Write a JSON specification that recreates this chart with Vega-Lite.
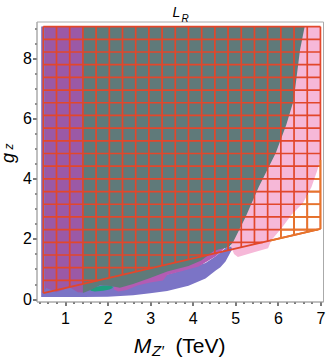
{
  "$schema": "https://vega.github.io/schema/vega-lite/v6.json",
  "width": 286.5,
  "height": 280,
  "autosize": {"type": "none"},
  "padding": {"left": 36.5, "top": 21.5, "right": 4, "bottom": 55.5},
  "config": {"font": "Liberation Sans", "view": {"stroke": "#aaaaaa", "strokeWidth": 1}},
  "datasets": {
    "regions": [
      {"r": "blue", "x": 0.44, "lo": 0.07, "hi": 9.05},
      {"r": "blue", "x": 1.42, "lo": 0.07, "hi": 9.05},
      {"r": "blue", "x": 1.43, "lo": 0.07, "hi": 0.6},
      {"r": "blue", "x": 2.0, "lo": 0.08, "hi": 0.6},
      {"r": "blue", "x": 2.6, "lo": 0.13, "hi": 0.6},
      {"r": "blue", "x": 3.0, "lo": 0.19, "hi": 0.75},
      {"r": "blue", "x": 3.4, "lo": 0.27, "hi": 0.82},
      {"r": "blue", "x": 3.9, "lo": 0.44, "hi": 1.02},
      {"r": "blue", "x": 4.3, "lo": 0.68, "hi": 1.2},
      {"r": "blue", "x": 4.54, "lo": 0.95, "hi": 1.42},
      {"r": "blue", "x": 4.65, "lo": 1.06, "hi": 1.55},
      {"r": "blue", "x": 4.77, "lo": 1.25, "hi": 1.7},
      {"r": "blue", "x": 4.89, "lo": 1.56, "hi": 1.75},
      {"r": "blue", "x": 4.96, "lo": 1.73, "hi": 1.76},
      {"r": "magenta", "x": 2.15, "lo": 0.32, "hi": 0.5},
      {"r": "magenta", "x": 2.25, "lo": 0.25, "hi": 0.5},
      {"r": "magenta", "x": 2.45, "lo": 0.3, "hi": 0.6},
      {"r": "magenta", "x": 2.7, "lo": 0.45, "hi": 0.7},
      {"r": "magenta", "x": 3.0, "lo": 0.55, "hi": 0.8},
      {"r": "magenta", "x": 3.3, "lo": 0.62, "hi": 1.0},
      {"r": "magenta", "x": 3.4, "lo": 0.8, "hi": 1.0},
      {"r": "magenta", "x": 3.8, "lo": 0.95, "hi": 1.2},
      {"r": "magenta", "x": 4.14, "lo": 1.08, "hi": 1.45},
      {"r": "magenta", "x": 4.54, "lo": 1.42, "hi": 1.75},
      {"r": "magenta", "x": 4.77, "lo": 1.72, "hi": 1.85},
      {"r": "magenta", "x": 4.85, "lo": 1.76, "hi": 1.85},
      {"r": "green", "x": 1.6, "lo": 0.28, "hi": 0.32},
      {"r": "green", "x": 1.7, "lo": 0.25, "hi": 0.4},
      {"r": "green", "x": 1.9, "lo": 0.28, "hi": 0.45},
      {"r": "green", "x": 2.05, "lo": 0.32, "hi": 0.45},
      {"r": "green", "x": 2.12, "lo": 0.37, "hi": 0.42},
      {"r": "pink", "x": 4.9, "lo": 1.75, "hi": 9.05},
      {"r": "pink", "x": 4.97, "lo": 1.5, "hi": 9.05},
      {"r": "pink", "x": 5.06, "lo": 1.4, "hi": 9.05},
      {"r": "pink", "x": 5.46, "lo": 1.56, "hi": 9.05},
      {"r": "pink", "x": 5.77, "lo": 1.69, "hi": 9.05},
      {"r": "pink", "x": 5.85, "lo": 1.96, "hi": 9.05},
      {"r": "pink", "x": 6.09, "lo": 2.36, "hi": 9.05},
      {"r": "pink", "x": 6.32, "lo": 2.8, "hi": 9.05},
      {"r": "pink", "x": 6.59, "lo": 3.19, "hi": 9.05},
      {"r": "pink", "x": 6.79, "lo": 3.72, "hi": 9.05},
      {"r": "pink", "x": 6.93, "lo": 4.3, "hi": 9.05},
      {"r": "pink", "x": 7.0, "lo": 4.62, "hi": 9.05},
      {"r": "purple", "x": 0.53, "lo": 0.3, "hi": 9.05},
      {"r": "purple", "x": 0.56, "lo": 0.37, "hi": 9.05},
      {"r": "purple", "x": 0.68, "lo": 0.3, "hi": 9.05},
      {"r": "purple", "x": 0.79, "lo": 0.23, "hi": 9.05},
      {"r": "purple", "x": 0.95, "lo": 0.3, "hi": 9.05},
      {"r": "purple", "x": 1.1, "lo": 0.4, "hi": 9.05},
      {"r": "purple", "x": 1.3, "lo": 0.23, "hi": 9.05},
      {"r": "purple", "x": 1.42, "lo": 0.22, "hi": 9.05},
      {"r": "gray", "x": 1.42, "lo": 0.2, "hi": 9.05},
      {"r": "gray", "x": 1.6, "lo": 0.3, "hi": 9.05},
      {"r": "gray", "x": 1.82, "lo": 0.46, "hi": 9.05},
      {"r": "gray", "x": 2.0, "lo": 0.45, "hi": 9.05},
      {"r": "gray", "x": 2.29, "lo": 0.38, "hi": 9.05},
      {"r": "gray", "x": 2.6, "lo": 0.5, "hi": 9.05},
      {"r": "gray", "x": 3.0, "lo": 0.7, "hi": 9.05},
      {"r": "gray", "x": 3.4, "lo": 0.92, "hi": 9.05},
      {"r": "gray", "x": 3.9, "lo": 1.1, "hi": 9.05},
      {"r": "gray", "x": 4.2, "lo": 1.28, "hi": 9.05},
      {"r": "gray", "x": 4.48, "lo": 1.58, "hi": 9.05},
      {"r": "gray", "x": 4.6, "lo": 1.65, "hi": 9.05},
      {"r": "gray", "x": 4.85, "lo": 1.72, "hi": 9.05},
      {"r": "gray", "x": 4.95, "lo": 1.9, "hi": 9.05},
      {"r": "gray", "x": 5.25, "lo": 2.75, "hi": 9.05},
      {"r": "gray", "x": 5.55, "lo": 3.72, "hi": 9.05},
      {"r": "gray", "x": 5.95, "lo": 4.85, "hi": 9.05},
      {"r": "gray", "x": 6.2, "lo": 5.8, "hi": 9.05},
      {"r": "gray", "x": 6.37, "lo": 6.6, "hi": 9.05},
      {"r": "gray", "x": 6.52, "lo": 8.27, "hi": 9.05},
      {"r": "gray", "x": 6.63, "lo": 9.05, "hi": 9.05}
    ],
    "grid": [
      {"x1": 0.49, "x2": 0.49, "y1": 0.2, "y2": 9.05},
      {"x1": 0.8, "x2": 0.8, "y1": 0.301, "y2": 9.05},
      {"x1": 1.11, "x2": 1.11, "y1": 0.403, "y2": 9.05},
      {"x1": 1.42, "x2": 1.42, "y1": 0.504, "y2": 9.05},
      {"x1": 1.73, "x2": 1.73, "y1": 0.606, "y2": 9.05},
      {"x1": 2.04, "x2": 2.04, "y1": 0.707, "y2": 9.05},
      {"x1": 2.35, "x2": 2.35, "y1": 0.809, "y2": 9.05},
      {"x1": 2.66, "x2": 2.66, "y1": 0.91, "y2": 9.05},
      {"x1": 2.97, "x2": 2.97, "y1": 1.011, "y2": 9.05},
      {"x1": 3.28, "x2": 3.28, "y1": 1.113, "y2": 9.05},
      {"x1": 3.59, "x2": 3.59, "y1": 1.214, "y2": 9.05},
      {"x1": 3.9, "x2": 3.9, "y1": 1.316, "y2": 9.05},
      {"x1": 4.21, "x2": 4.21, "y1": 1.417, "y2": 9.05},
      {"x1": 4.52, "x2": 4.52, "y1": 1.519, "y2": 9.05},
      {"x1": 4.83, "x2": 4.83, "y1": 1.62, "y2": 9.05},
      {"x1": 5.14, "x2": 5.14, "y1": 1.721, "y2": 9.05},
      {"x1": 5.45, "x2": 5.45, "y1": 1.823, "y2": 9.05},
      {"x1": 5.76, "x2": 5.76, "y1": 1.924, "y2": 9.05},
      {"x1": 6.07, "x2": 6.07, "y1": 2.026, "y2": 9.05},
      {"x1": 6.38, "x2": 6.38, "y1": 2.127, "y2": 9.05},
      {"x1": 6.69, "x2": 6.69, "y1": 2.229, "y2": 9.05},
      {"x1": 7.0, "x2": 7.0, "y1": 2.33, "y2": 9.05},
      {"x1": 0.49, "x2": 7.0, "y1": 9.05, "y2": 9.05},
      {"x1": 0.49, "x2": 7.0, "y1": 8.629, "y2": 8.629},
      {"x1": 0.49, "x2": 7.0, "y1": 8.207, "y2": 8.207},
      {"x1": 0.49, "x2": 7.0, "y1": 7.786, "y2": 7.786},
      {"x1": 0.49, "x2": 7.0, "y1": 7.364, "y2": 7.364},
      {"x1": 0.49, "x2": 7.0, "y1": 6.943, "y2": 6.943},
      {"x1": 0.49, "x2": 7.0, "y1": 6.521, "y2": 6.521},
      {"x1": 0.49, "x2": 7.0, "y1": 6.1, "y2": 6.1},
      {"x1": 0.49, "x2": 7.0, "y1": 5.679, "y2": 5.679},
      {"x1": 0.49, "x2": 7.0, "y1": 5.257, "y2": 5.257},
      {"x1": 0.49, "x2": 7.0, "y1": 4.836, "y2": 4.836},
      {"x1": 0.49, "x2": 7.0, "y1": 4.414, "y2": 4.414},
      {"x1": 0.49, "x2": 7.0, "y1": 3.993, "y2": 3.993},
      {"x1": 0.49, "x2": 7.0, "y1": 3.571, "y2": 3.571},
      {"x1": 0.49, "x2": 7.0, "y1": 3.15, "y2": 3.15},
      {"x1": 0.49, "x2": 7.0, "y1": 2.729, "y2": 2.729},
      {"x1": 0.49, "x2": 6.93, "y1": 2.307, "y2": 2.307},
      {"x1": 0.49, "x2": 5.643, "y1": 1.886, "y2": 1.886},
      {"x1": 0.49, "x2": 4.354, "y1": 1.464, "y2": 1.464},
      {"x1": 0.49, "x2": 3.066, "y1": 1.043, "y2": 1.043},
      {"x1": 0.49, "x2": 1.777, "y1": 0.621, "y2": 0.621},
      {"x1": 0.49, "x2": 7.0, "y1": 0.2, "y2": 2.33}
    ],
    "gridBare": [
      {"x1": 6.07, "x2": 6.07, "y1": 2.026, "y2": 2.33},
      {"x1": 6.38, "x2": 6.38, "y1": 2.127, "y2": 2.89},
      {"x1": 6.69, "x2": 6.69, "y1": 2.229, "y2": 3.46},
      {"x1": 7.0, "x2": 7.0, "y1": 2.33, "y2": 4.62},
      {"x1": 6.06, "x2": 6.93, "y1": 2.307, "y2": 2.307},
      {"x1": 6.28, "x2": 7.0, "y1": 2.729, "y2": 2.729},
      {"x1": 6.56, "x2": 7.0, "y1": 3.15, "y2": 3.15},
      {"x1": 6.73, "x2": 7.0, "y1": 3.571, "y2": 3.571},
      {"x1": 6.86, "x2": 7.0, "y1": 3.993, "y2": 3.993},
      {"x1": 6.955, "x2": 7.0, "y1": 4.414, "y2": 4.414},
      {"x1": 5.82, "x2": 7.0, "y1": 1.94, "y2": 2.33}
    ]
  },
  "layer": [
    {
      "data": {"name": "regions"},
      "encoding": {
        "x": {"field": "x", "type": "quantitative", "scale": {"domain": [0.33, 7.06], "nice": false, "zero": false},
          "axis": {"orient": "bottom", "values": [0.4,0.6,0.8,1,1.2,1.4,1.6,1.8,2,2.2,2.4,2.6,2.8,3,3.2,3.4,3.6,3.8,4,4.2,4.4,4.6,4.8,5,5.2,5.4,5.6,5.8,6,6.2,6.4,6.6,6.8,7],
            "labelExpr": "abs(datum.value-round(datum.value))<0.01 ? format(datum.value,'d') : ''",
            "tickSize": {"condition": {"test": "abs(datum.value-round(datum.value))<0.01", "value": 4}, "value": 2},
            "tickColor": "#222", "tickWidth": 1.2, "labelFontSize": 16, "labelColor": "#000", "labelPadding": 5, "labelFlush": false, "labelOverlap": false,
            "domainColor": "#aaaaaa", "grid": false,
            "title": "M", "titleFontStyle": "italic", "titleFontSize": 21, "titleFontWeight": "normal", "titleColor": "#000",
            "titleX": 105.5, "titleY": 50.5, "titleAlign": "center", "titleBaseline": "alphabetic"}},
        "y": {"field": "hi", "type": "quantitative", "scale": {"domain": [-0.08, 9.22], "nice": false, "zero": false},
          "axis": {"orient": "left", "values": [0,0.5,1,1.5,2,2.5,3,3.5,4,4.5,5,5.5,6,6.5,7,7.5,8,8.5,9],
            "labelExpr": "datum.value % 2 === 0 ? format(datum.value,'d') : ''",
            "tickSize": {"condition": {"test": "datum.value % 2 === 0", "value": 4}, "value": 2},
            "tickColor": "#222", "tickWidth": 1.2, "labelFontSize": 16, "labelColor": "#000", "labelPadding": 1, "labelFlush": false, "labelOverlap": false,
            "domainColor": "#aaaaaa", "grid": false,
            "title": "g", "titleFontStyle": "italic", "titleFontSize": 18, "titleFontWeight": "normal", "titleColor": "#000",
            "titleAngle": 270, "titleX": -23.5, "titleY": 136, "titleAlign": "center", "titleBaseline": "alphabetic"}},
        "y2": {"field": "lo"}
      },
      "layer": [
        {"transform": [{"filter": "datum.r === 'blue'"}], "mark": {"type": "area", "color": "#7b74c6"}},
        {"transform": [{"filter": "datum.r === 'magenta'"}], "mark": {"type": "area", "color": "#b35cb3"}},
        {"transform": [{"filter": "datum.r === 'green'"}], "mark": {"type": "area", "color": "#1f9e80"}},
        {"transform": [{"filter": "datum.r === 'pink'"}], "mark": {"type": "area", "color": "#f6b8d8"}},
        {"transform": [{"filter": "datum.r === 'purple'"}], "mark": {"type": "area", "color": "#9b59a6"}},
        {"transform": [{"filter": "datum.r === 'gray'"}], "mark": {"type": "area", "color": "#5f7a7a"}}
      ]
    },
    {
      "data": {"name": "grid"},
      "mark": {"type": "rule", "color": "#e2472b", "strokeWidth": 1.7},
      "encoding": {
        "x": {"field": "x1", "type": "quantitative", "scale": {"domain": [0.33, 7.06], "nice": false, "zero": false},
          "axis": {"orient": "top", "values": [3.17, 4.17],
            "labelExpr": "datum.value < 3.5 ? 'Z\u2032' : '(TeV)'",
            "labelFontSize": {"condition": {"test": "datum.value < 3.5", "value": 15}, "value": 21},
            "labelFontStyle": {"condition": {"test": "datum.value < 3.5", "value": "italic"}, "value": "normal"},
            "labelPadding": {"condition": {"test": "datum.value < 3.5", "value": -333.5}, "value": -330.5},
            "ticks": false, "tickSize": 0, "domain": false, "grid": false,
            "labelBaseline": "alphabetic", "labelAlign": "center", "labelColor": "#000", "labelFlush": false, "labelOverlap": false, "labelBound": false,
            "title": "L", "titleFontSize": 14, "titleFontStyle": "italic", "titleFontWeight": "normal", "titleColor": "#000",
            "titleX": 139.5, "titleY": -5, "titleAlign": "center", "titleBaseline": "alphabetic"}},
        "x2": {"field": "x2"},
        "y": {"field": "y1", "type": "quantitative", "scale": {"domain": [-0.08, 9.22], "nice": false, "zero": false},
          "axis": {"orient": "right", "values": [9], "labelExpr": "'R'", "labelAngle": 0, "labelAlign": "left", "labelBaseline": "alphabetic",
            "labelPadding": -142, "labelOffset": -7, "labelFontSize": 10, "labelFontStyle": "italic", "labelColor": "#000", "labelFlush": false, "labelOverlap": false, "labelBound": false,
            "ticks": false, "tickSize": 0, "domain": false, "grid": false,
            "title": "z", "titleFontSize": 12, "titleFontStyle": "italic", "titleFontWeight": "normal", "titleColor": "#000",
            "titleAngle": 270, "titleX": -311, "titleY": 124.5, "titleAlign": "center", "titleBaseline": "alphabetic"}},
        "y2": {"field": "y2"}
      }
    },
    {
      "data": {"name": "gridBare"},
      "mark": {"type": "rule", "color": "#e6762a", "strokeWidth": 1.7},
      "encoding": {
        "x": {"field": "x1", "type": "quantitative", "axis": null},
        "x2": {"field": "x2"},
        "y": {"field": "y1", "type": "quantitative", "axis": null},
        "y2": {"field": "y2"}
      }
    }
  ],
  "resolve": {"axis": {"x": "independent", "y": "independent"}}
}
